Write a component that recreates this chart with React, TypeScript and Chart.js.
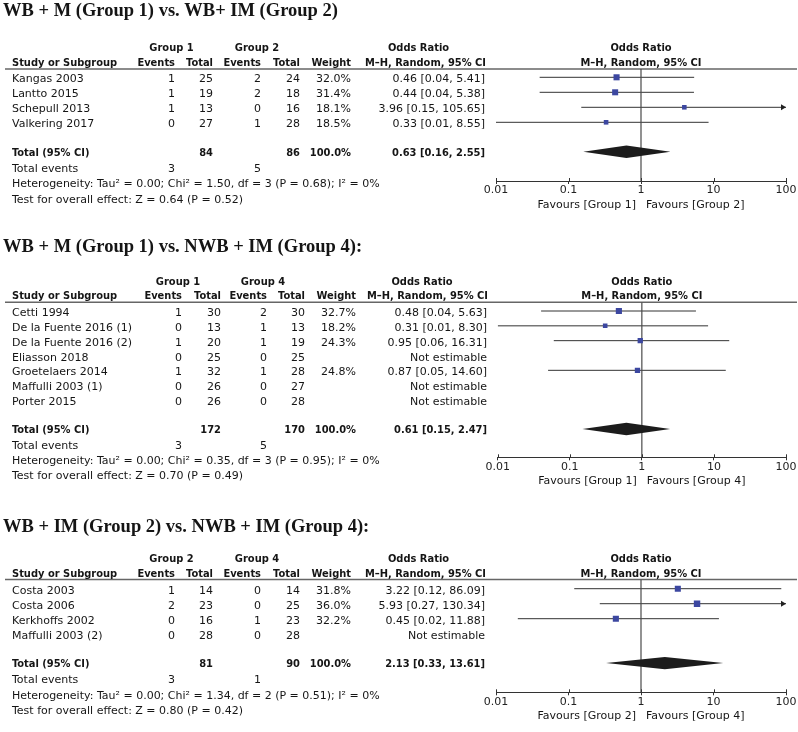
import React, { useEffect, useRef } from "react";
import { Chart, registerables } from "chart.js";

Chart.register(...registerables);

// ---------------- data ----------------
const TICK_VALUES = [0.01, 0.1, 1, 10, 100];
const TICK_LABELS = ["0.01", "0.1", "1", "10", "100"];

// Panel 1
const p1Title = "WB + M (Group 1) vs. WB+ IM (Group 2)";
const p1Groups = ["Group 1", "Group 2"];
const p1Studies = ["Kangas 2003", "Lantto 2015", "Schepull 2013", "Valkering 2017"];
const p1EventsA = [1, 1, 1, 0];
const p1TotalA = [25, 19, 13, 27];
const p1EventsB = [2, 2, 0, 1];
const p1TotalB = [24, 18, 16, 28];
const p1Weight = [32.0, 31.4, 18.1, 18.5];
const p1OR = [0.46, 0.44, 3.96, 0.33];
const p1Lo = [0.04, 0.04, 0.15, 0.01];
const p1Hi = [5.41, 5.38, 105.65, 8.55];
const p1SumTotals = [84, 86];
const p1SumEvents = [3, 5];
const p1SumEffect = [0.63, 0.16, 2.55];
const p1Het = "Heterogeneity: Tau² = 0.00; Chi² = 1.50, df = 3 (P = 0.68); I² = 0%";
const p1Test = "Test for overall effect: Z = 0.64 (P = 0.52)";
const p1Favours = ["Favours [Group 1]", "Favours [Group 2]"];

// Panel 2
const p2Title = "WB + M (Group 1) vs. NWB + IM (Group 4):";
const p2Groups = ["Group 1", "Group 4"];
const p2Studies = [
  "Cetti 1994",
  "De la Fuente 2016 (1)",
  "De la Fuente 2016 (2)",
  "Eliasson 2018",
  "Groetelaers 2014",
  "Maffulli 2003 (1)",
  "Porter 2015",
];
const p2EventsA = [1, 0, 1, 0, 1, 0, 0];
const p2TotalA = [30, 13, 20, 25, 32, 26, 26];
const p2EventsB = [2, 1, 1, 0, 1, 0, 0];
const p2TotalB = [30, 13, 19, 25, 28, 27, 28];
const p2Weight = [32.7, 18.2, 24.3, null, 24.8, null, null];
const p2OR = [0.48, 0.31, 0.95, null, 0.87, null, null];
const p2Lo = [0.04, 0.01, 0.06, null, 0.05, null, null];
const p2Hi = [5.63, 8.3, 16.31, null, 14.6, null, null];
const p2SumTotals = [172, 170];
const p2SumEvents = [3, 5];
const p2SumEffect = [0.61, 0.15, 2.47];
const p2Het = "Heterogeneity: Tau² = 0.00; Chi² = 0.35, df = 3 (P = 0.95); I² = 0%";
const p2Test = "Test for overall effect: Z = 0.70 (P = 0.49)";
const p2Favours = ["Favours [Group 1]", "Favours [Group 4]"];

// Panel 3
const p3Title = "WB + IM (Group 2) vs. NWB + IM (Group 4):";
const p3Groups = ["Group 2", "Group 4"];
const p3Studies = ["Costa 2003", "Costa 2006", "Kerkhoffs 2002", "Maffulli 2003 (2)"];
const p3EventsA = [1, 2, 0, 0];
const p3TotalA = [14, 23, 16, 28];
const p3EventsB = [0, 0, 1, 0];
const p3TotalB = [14, 25, 23, 28];
const p3Weight = [31.8, 36.0, 32.2, null];
const p3OR = [3.22, 5.93, 0.45, null];
const p3Lo = [0.12, 0.27, 0.02, null];
const p3Hi = [86.09, 130.34, 11.88, null];
const p3SumTotals = [81, 90];
const p3SumEvents = [3, 1];
const p3SumEffect = [2.13, 0.33, 13.61];
const p3Het = "Heterogeneity: Tau² = 0.00; Chi² = 1.34, df = 2 (P = 0.51); I² = 0%";
const p3Test = "Test for overall effect: Z = 0.80 (P = 0.42)";
const p3Favours = ["Favours [Group 2]", "Favours [Group 4]"];

// ---------------- styles / layout ----------------
const BLUE = "#3c47a0";
const TEXT = "#151515";
const REG = '11px "DejaVu Sans"';
const BOLD = 'bold 11px "DejaVu Sans Condensed", "DejaVu Sans"';
const TITLE = 'bold 18.5px "Liberation Serif", "Times New Roman", serif';
const AXIS_H = 30;

type Layout = {
  top: number; height: number; row0: number; rowH: number; headerLine: number; axis: number;
  titleBase: number; plotLeft: number; plotRight: number;
  studyX: number; ev1R: number; tot1R: number; ev2R: number; tot2R: number; wR: number; ciR: number;
  g1C: number; g2C: number; orHdrC: number; ciHdrR: number;
};

const L1: Layout = {
  top: 0, height: 215, row0: 77.3, rowH: 15, headerLine: 69, axis: 181, titleBase: 16,
  plotLeft: 496, plotRight: 786,
  studyX: 12, ev1R: 175, tot1R: 213, ev2R: 261, tot2R: 300, wR: 351, ciR: 485,
  g1C: 171.5, g2C: 257, orHdrC: 418.5, ciHdrR: 486,
};
const L2: Layout = {
  top: 215, height: 275, row0: 311, rowH: 14.83, headerLine: 302.3, axis: 457.3, titleBase: 251.7,
  plotLeft: 497.7, plotRight: 786,
  studyX: 12, ev1R: 182, tot1R: 221, ev2R: 267, tot2R: 305, wR: 356, ciR: 487,
  g1C: 178, g2C: 263, orHdrC: 422, ciHdrR: 488,
};
const L3: Layout = {
  top: 490, height: 242, row0: 588.7, rowH: 15, headerLine: 579.5, axis: 692.3, titleBase: 531.7,
  plotLeft: 496, plotRight: 786,
  studyX: 12, ev1R: 175, tot1R: 213, ev2R: 261, tot2R: 300, wR: 351, ciR: 485,
  g1C: 171.5, g2C: 257, orHdrC: 418.5, ciHdrR: 486,
};

type Panel = {
  title: string; groups: string[]; studies: string[];
  evA: number[]; totA: number[]; evB: number[]; totB: number[];
  weight: (number | null)[]; or: (number | null)[]; lo: (number | null)[]; hi: (number | null)[];
  sumTotals: number[]; sumEvents: number[]; sumEffect: number[];
  het: string; test: string; favours: string[];
};

const PANEL1: Panel = {
  title: p1Title, groups: p1Groups, studies: p1Studies, evA: p1EventsA, totA: p1TotalA, evB: p1EventsB, totB: p1TotalB,
  weight: p1Weight, or: p1OR, lo: p1Lo, hi: p1Hi, sumTotals: p1SumTotals, sumEvents: p1SumEvents, sumEffect: p1SumEffect,
  het: p1Het, test: p1Test, favours: p1Favours,
};
const PANEL2: Panel = {
  title: p2Title, groups: p2Groups, studies: p2Studies, evA: p2EventsA, totA: p2TotalA, evB: p2EventsB, totB: p2TotalB,
  weight: p2Weight, or: p2OR, lo: p2Lo, hi: p2Hi, sumTotals: p2SumTotals, sumEvents: p2SumEvents, sumEffect: p2SumEffect,
  het: p2Het, test: p2Test, favours: p2Favours,
};
const PANEL3: Panel = {
  title: p3Title, groups: p3Groups, studies: p3Studies, evA: p3EventsA, totA: p3TotalA, evB: p3EventsB, totB: p3TotalB,
  weight: p3Weight, or: p3OR, lo: p3Lo, hi: p3Hi, sumTotals: p3SumTotals, sumEvents: p3SumEvents, sumEffect: p3SumEffect,
  het: p3Het, test: p3Test, favours: p3Favours,
};

const fmtCI = (o: number, l: number, h: number) => `${o.toFixed(2)} [${l.toFixed(2)}, ${h.toFixed(2)}]`;

function ForestPanel({ panel, layout }: { panel: Panel; layout: Layout }) {
  const ref = useRef<HTMLCanvasElement>(null);

  useEffect(() => {
    if (!ref.current) return;
    const n = panel.studies.length;
    const yMin = (layout.headerLine - layout.row0) / layout.rowH;
    const yMax = (layout.axis - layout.row0) / layout.rowH;
    const totalRow = n + 0.96;
    const xMin = TICK_VALUES[0];
    const xMax = TICK_VALUES[TICK_VALUES.length - 1];

    const squares: any[] = [];
    const ciSets: any[] = [];
    panel.or.forEach((v, i) => {
      if (v == null) return;
      squares.push({ x: v, y: i, w: panel.weight[i] });
      ciSets.push({
        data: [
          { x: Math.max(panel.lo[i] as number, xMin), y: i },
          { x: Math.min(panel.hi[i] as number, xMax), y: i },
        ],
        showLine: true,
        borderColor: "#333",
        borderWidth: 1,
        pointRadius: 0,
      });
    });

    const datasets: any[] = [
      {
        data: squares,
        pointStyle: "rect",
        pointRadius: (c: any) => (c.raw ? Math.sqrt(c.raw.w) * 0.76 : 3),
        pointBackgroundColor: BLUE,
        backgroundColor: BLUE,
        pointBorderWidth: 0,
        borderWidth: 0,
        showLine: false,
      },
      {
        data: [{ x: 1, y: yMin }, { x: 1, y: yMax }],
        showLine: true,
        borderColor: "#4a4a4a",
        borderWidth: 1.2,
        pointRadius: 0,
      },
      ...ciSets,
    ];

    const text = (ctx: CanvasRenderingContext2D, s: string, x: number, y: number, align: CanvasTextAlign, font: string) => {
      ctx.font = font;
      ctx.textAlign = align;
      ctx.textBaseline = "alphabetic";
      ctx.fillStyle = TEXT;
      ctx.fillText(s, x, y);
    };

    const plugin = {
      id: "forestTable",
      beforeDatasetsDraw(chart: any) {
        const ctx = chart.ctx as CanvasRenderingContext2D;
        const y = chart.scales.y.getPixelForValue(yMin);
        ctx.save();
        ctx.strokeStyle = "#666";
        ctx.lineWidth = 1.5;
        ctx.beginPath();
        ctx.moveTo(5, y);
        ctx.lineTo(797, y);
        ctx.stroke();
        ctx.restore();
      },
      afterDatasetsDraw(chart: any) {
        const ctx = chart.ctx as CanvasRenderingContext2D;
        const xs = chart.scales.x;
        const ys = chart.scales.y;
        ctx.save();
        // summary diamond
        const [so, sl, sh] = panel.sumEffect;
        const yc = ys.getPixelForValue(totalRow);
        ctx.fillStyle = "#1c1c1c";
        ctx.beginPath();
        ctx.moveTo(xs.getPixelForValue(sl), yc);
        ctx.lineTo(xs.getPixelForValue(so), yc - 6.2);
        ctx.lineTo(xs.getPixelForValue(sh), yc);
        ctx.lineTo(xs.getPixelForValue(so), yc + 6.2);
        ctx.closePath();
        ctx.fill();
        // arrows for truncated CIs
        ctx.fillStyle = "#222";
        panel.hi.forEach((h, i) => {
          if (h == null || h <= xMax) return;
          const tx = xs.getPixelForValue(xMax);
          const ty = ys.getPixelForValue(i);
          ctx.beginPath();
          ctx.moveTo(tx, ty);
          ctx.lineTo(tx - 5, ty - 3);
          ctx.lineTo(tx - 5, ty + 3);
          ctx.closePath();
          ctx.fill();
        });
        // upper half of tick marks
        const ay = ys.getPixelForValue(yMax);
        ctx.strokeStyle = "#333";
        ctx.lineWidth = 1;
        TICK_VALUES.forEach((v) => {
          const px = Math.round(xs.getPixelForValue(v)) + 0.5;
          ctx.beginPath();
          ctx.moveTo(px, ay - 3);
          ctx.lineTo(px, ay);
          ctx.stroke();
        });
        ctx.restore();
      },
      afterDraw(chart: any) {
        const ctx = chart.ctx as CanvasRenderingContext2D;
        const xs = chart.scales.x;
        const ys = chart.scales.y;
        const base = (r: number) => ys.getPixelForValue(r) + 4;
        const x1 = xs.getPixelForValue(1);
        const Ly = layout;
        ctx.save();
        // title
        text(ctx, panel.title, 3, Ly.titleBase - Ly.top, "left", TITLE);
        // headers
        const h1 = base(-2.05);
        const h2 = base(-1.05);
        text(ctx, panel.groups[0], Ly.g1C, h1, "center", BOLD);
        text(ctx, panel.groups[1], Ly.g2C, h1, "center", BOLD);
        text(ctx, "Odds Ratio", Ly.orHdrC, h1, "center", BOLD);
        text(ctx, "Odds Ratio", x1, h1, "center", BOLD);
        text(ctx, "Study or Subgroup", Ly.studyX, h2, "left", BOLD);
        text(ctx, "Events", Ly.ev1R, h2, "right", BOLD);
        text(ctx, "Total", Ly.tot1R, h2, "right", BOLD);
        text(ctx, "Events", Ly.ev2R, h2, "right", BOLD);
        text(ctx, "Total", Ly.tot2R, h2, "right", BOLD);
        text(ctx, "Weight", Ly.wR, h2, "right", BOLD);
        text(ctx, "M–H, Random, 95% CI", Ly.ciHdrR, h2, "right", BOLD);
        text(ctx, "M–H, Random, 95% CI", x1, h2, "center", BOLD);
        // rows
        panel.studies.forEach((s, i) => {
          const y = base(i + 0.07);
          text(ctx, s, Ly.studyX, y, "left", REG);
          text(ctx, String(panel.evA[i]), Ly.ev1R, y, "right", REG);
          text(ctx, String(panel.totA[i]), Ly.tot1R, y, "right", REG);
          text(ctx, String(panel.evB[i]), Ly.ev2R, y, "right", REG);
          text(ctx, String(panel.totB[i]), Ly.tot2R, y, "right", REG);
          const w = panel.weight[i];
          if (w != null) text(ctx, `${w.toFixed(1)}%`, Ly.wR, y, "right", REG);
          const o = panel.or[i];
          const ci = o == null ? "Not estimable" : fmtCI(o, panel.lo[i] as number, panel.hi[i] as number);
          text(ctx, ci, Ly.ciR, y, "right", REG);
        });
        // total row
        const ty = base(totalRow);
        text(ctx, "Total (95% CI)", Ly.studyX, ty, "left", BOLD);
        text(ctx, String(panel.sumTotals[0]), Ly.tot1R, ty, "right", BOLD);
        text(ctx, String(panel.sumTotals[1]), Ly.tot2R, ty, "right", BOLD);
        text(ctx, "100.0%", Ly.wR, ty, "right", BOLD);
        text(ctx, fmtCI(panel.sumEffect[0], panel.sumEffect[1], panel.sumEffect[2]), Ly.ciR, ty, "right", BOLD);
        // total events, heterogeneity, test
        const ey = base(n + 2.05);
        text(ctx, "Total events", Ly.studyX, ey, "left", REG);
        text(ctx, String(panel.sumEvents[0]), Ly.ev1R, ey, "right", REG);
        text(ctx, String(panel.sumEvents[1]), Ly.ev2R, ey, "right", REG);
        text(ctx, panel.het, Ly.studyX, base(n + 3.07), "left", REG);
        text(ctx, panel.test, Ly.studyX, base(n + 4.08), "left", REG);
        // favours labels
        const fy = ys.getPixelForValue(yMax) + 27;
        text(ctx, panel.favours[0], x1 - 5, fy, "right", REG);
        text(ctx, panel.favours[1], x1 + 5, fy, "left", REG);
        ctx.restore();
      },
    };

    const chart = new Chart(ref.current, {
      type: "scatter",
      data: { datasets },
      plugins: [plugin],
      options: {
        animation: false,
        responsive: false,
        maintainAspectRatio: false,
        events: [],
        layout: {
          padding: {
            left: layout.plotLeft,
            right: 798 - layout.plotRight,
            top: layout.headerLine - layout.top,
            bottom: layout.height - (layout.axis - layout.top) - AXIS_H,
          },
        },
        plugins: { legend: { display: false }, tooltip: { enabled: false }, title: { display: false } },
        scales: {
          x: {
            type: "logarithmic",
            position: "bottom",
            min: xMin,
            max: xMax,
            afterFit: (s: any) => {
              s.height = AXIS_H;
            },
            afterBuildTicks: (s: any) => {
              s.ticks = TICK_VALUES.map((v) => ({ value: v }));
            },
            ticks: {
              autoSkip: false,
              maxRotation: 0,
              padding: 0,
              color: "#222",
              font: { family: "DejaVu Sans", size: 11 },
              callback: (_v: any, i: number) => TICK_LABELS[i],
            },
            grid: { display: true, drawOnChartArea: false, drawTicks: true, tickLength: 3, color: "#333", lineWidth: 1 },
            border: { display: true, color: "#333", width: 1 },
          },
          y: { type: "linear", display: false, min: yMin, max: yMax, reverse: true },
        },
      } as any,
    });
    return () => chart.destroy();
  }, [panel, layout]);

  return (
    <div style={{ position: "absolute", left: 0, top: layout.top, width: 798, height: layout.height }}>
      <canvas ref={ref} width={798} height={layout.height} style={{ display: "block" }} />
    </div>
  );
}

export default function App() {
  return (
    <div style={{ position: "absolute", left: 0, top: 0, width: 798, height: 732, background: "#fff" }}>
      <ForestPanel panel={PANEL1} layout={L1} />
      <ForestPanel panel={PANEL2} layout={L2} />
      <ForestPanel panel={PANEL3} layout={L3} />
    </div>
  );
}
